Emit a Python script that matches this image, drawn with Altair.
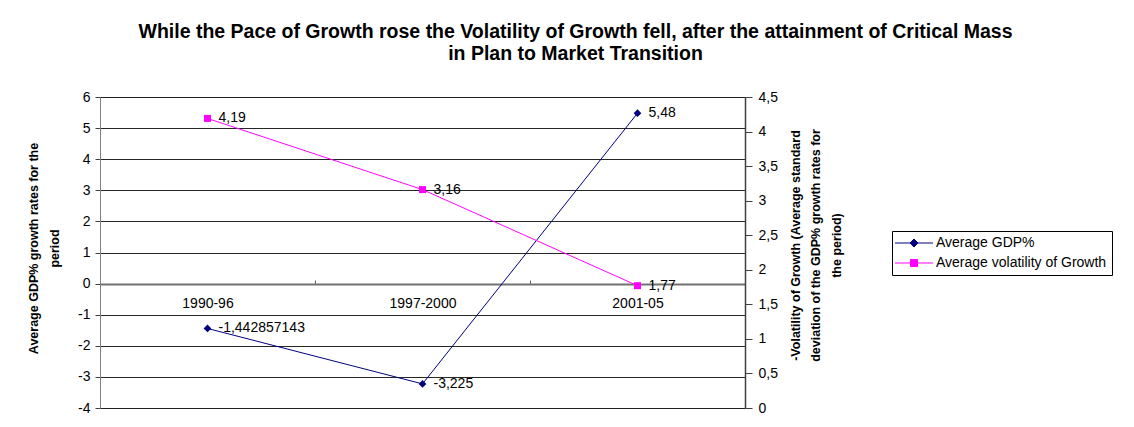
import altair as alt
import pandas as pd

periods = ["1990-96", "1997-2000", "2001-05"]
gdp = [-1.442857143, -3.225, 5.48]
vol = [4.19, 3.16, 1.77]
series_names = ["Average GDP%", "Average volatility of Growth"]
series_colors = ["#000080", "#FF00FF"]
left_ticks = [-4, -3, -2, -1, 0, 1, 2, 3, 4, 5, 6]
right_ticks = [0, 0.5, 1, 1.5, 2, 2.5, 3, 3.5, 4, 4.5]

title_lines = [
    "While the Pace of Growth rose the Volatility of Growth fell, after the attainment of Critical Mass",
    "in Plan to Market Transition",
]
left_title = ["Average GDP% growth rates for the", "period"]
right_title = [
    "-Volatility of Growth (Average standard",
    "deviation of the GDP% growth rates for",
    "the period)",
]

FONT = "Liberation Sans"
W, H = 645, 311

df = pd.DataFrame({"period": periods, "gdp": gdp, "vol": vol})
legend_df = pd.DataFrame({"series": series_names})

x_enc = alt.X(
    "period:N",
    sort=periods,
    scale=alt.Scale(type="band", paddingInner=0, paddingOuter=0),
    axis=alt.Axis(
        orient="top", offset=-187, domain=True, domainColor="#707070", domainWidth=2,
        ticks=True, tickBand="extent",
        tickSize=4, tickColor="#606060", labelPadding=-23, labelBaseline="middle",
        labelAngle=0, labelFontSize=14, labelFont=FONT, labelColor="#000000",
        title=None, grid=False,
    ),
)

y_left = alt.Y(
    "gdp:Q",
    scale=alt.Scale(domain=[-4, 6], nice=False, zero=False),
    axis=alt.Axis(
        values=left_ticks, labelExpr="toString(datum.value)", labelOverlap=False,
        grid=True, gridColor="#000000", gridOpacity=0.85, gridWidth=1,
        domainColor="#808080", tickColor="#404040", tickSize=5, labelPadding=5,
        labelFontSize=14, labelFont=FONT, labelColor="#000000",
        title=left_title, titleFont=FONT, titleFontSize=12.5, titleFontWeight="bold",
        titleAngle=-90, titleLineHeight=20.5, titleBaseline="top", titleAlign="center",
        titleX=-72.5, titleY=151, titleColor="#000000",
    ),
)

gdp_line = alt.Chart(df).mark_line(color=series_colors[0], strokeWidth=1).encode(x=x_enc, y=y_left)
gdp_pts = alt.Chart(df).mark_point(shape="diamond", filled=True, size=60, opacity=1,
                                   color=series_colors[0]).encode(x=x_enc, y=y_left)
gdp_txt = alt.Chart(df).transform_calculate(
    lbl="replace(toString(datum.gdp), '.', ',')"
).mark_text(align="left", baseline="middle", dx=11, fontSize=14, font=FONT,
            color="#000000").encode(x=x_enc, y=y_left, text="lbl:N")

left_layer = alt.layer(gdp_line, gdp_pts, gdp_txt)

y_right = alt.Y(
    "vol:Q",
    scale=alt.Scale(domain=[0, 4.5], nice=False, zero=False),
    axis=alt.Axis(
        orient="right", values=right_ticks, labelOverlap=False,
        labelExpr="replace(toString(datum.value), '.', ',')", grid=False,
        domainColor="#404040", domainWidth=1.5, tickColor="#404040", tickSize=7,
        labelPadding=6, labelFontSize=14, labelFont=FONT, labelColor="#000000",
        title=right_title, titleFont=FONT, titleFontSize=12.5, titleFontWeight="bold",
        titleAngle=-90, titleLineHeight=20.5, titleBaseline="top", titleAlign="center",
        titleX=44, titleY=148, titleColor="#000000",
    ),
)

vol_line = alt.Chart(df).mark_line(color=series_colors[1], strokeWidth=1).encode(x=x_enc, y=y_right)
vol_pts = alt.Chart(df).mark_point(shape="square", filled=True, size=49, opacity=1,
                                   color=series_colors[1]).encode(x=x_enc, y=y_right)
vol_txt = alt.Chart(df).transform_calculate(
    lbl="replace(toString(datum.vol), '.', ',')"
).mark_text(align="left", baseline="middle", dx=11, fontSize=14, font=FONT,
            color="#000000").encode(x=x_enc, y=y_right, text="lbl:N")

right_layer = alt.layer(vol_line, vol_pts, vol_txt)

diamond_path = "M-3.8,0H3.8M0,-0.8L0.8,0L0,0.8L-0.8,0Z"
square_path = "M-3.8,0H3.8M-0.7,-0.7H0.7V0.7H-0.7Z"

leg = alt.Legend(
    title=None, orient="none", legendX=792, legendY=134,
    strokeColor="#000000", fillColor="#FFFFFF", padding=5,
    labelFont=FONT, labelFontSize=14, labelColor="#000000", labelLimit=0,
    symbolSize=100, symbolStrokeWidth=1, labelOffset=15, rowPadding=6,
    symbolOffset=10,
)
legend_layer = alt.Chart(legend_df).transform_filter("false").mark_point(
    filled=True, opacity=1, size=100, strokeWidth=1
).encode(
    shape=alt.Shape("series:N", scale=alt.Scale(domain=series_names, range=[diamond_path, square_path]), legend=leg),
    fill=alt.Fill("series:N", scale=alt.Scale(domain=series_names, range=series_colors), legend=leg),
    stroke=alt.Stroke("series:N", scale=alt.Scale(domain=series_names, range=series_colors), legend=leg),
)

chart = alt.layer(left_layer, right_layer, legend_layer).resolve_scale(
    y="independent"
).properties(
    width=W, height=H,
    autosize=alt.AutoSizeParams(type="none"),
    padding={"left": 92, "top": 89, "right": 381, "bottom": 10},
    title=alt.TitleParams(
        text=title_lines, font=FONT, fontSize=19.5, fontWeight="bold", color="#000000",
        anchor="middle", frame="group", dx=153, offset=26, lineHeight=22,
    ),
).configure_view(
    fill="#C0C0C0", stroke="#808080", strokeWidth=1
).configure(background="#FFFFFF")

chart.save("out.html", embed_options={"renderer": "svg", "actions": False})
